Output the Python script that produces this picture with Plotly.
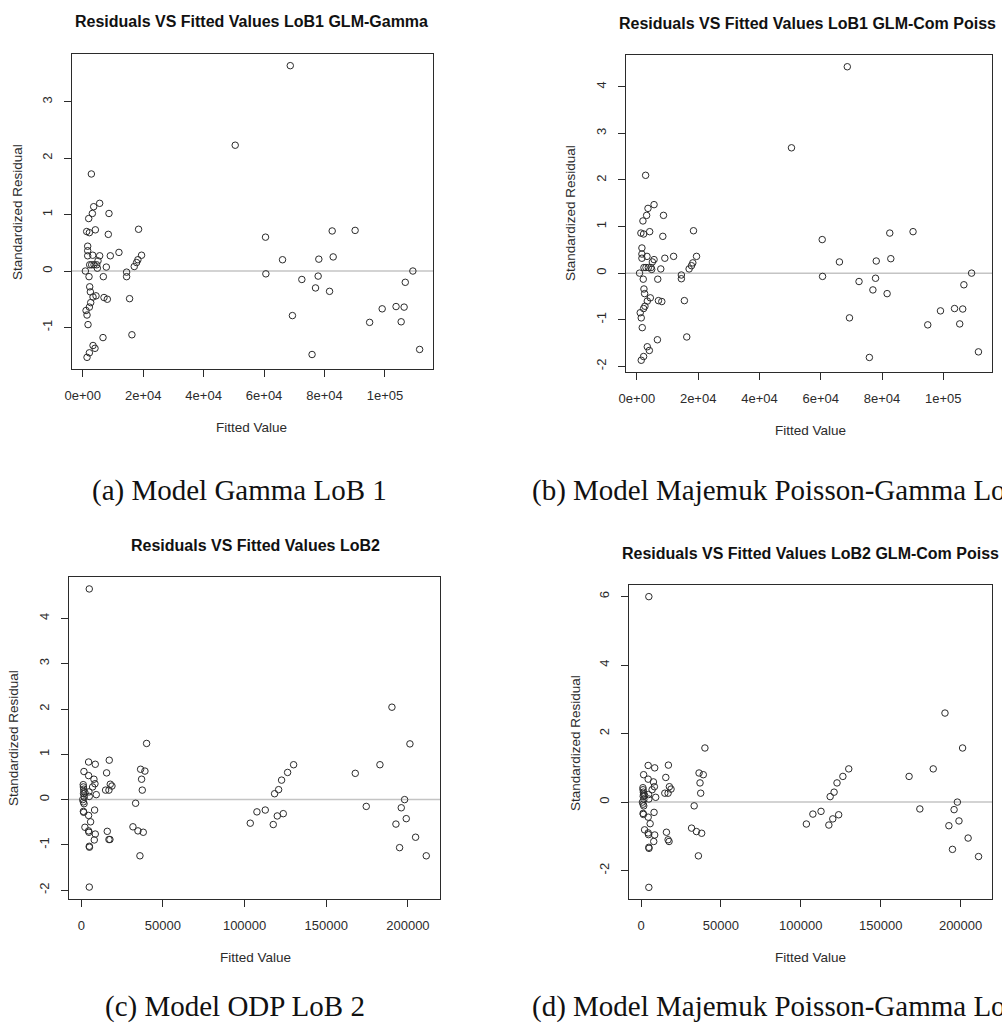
import plotly.graph_objects as go

# ---------------- data ----------------
lob1_fitted = [2860, 5610, 3630, 3190, 1980, 8690, 1320, 2200, 4180, 8470, 18480,
               1650, 1650, 1650, 3300, 5610, 9130, 11990, 19470, 18260, 17820, 17050,
               2310, 2970, 3740, 4620, 5060, 4840, 7810, 880, 2090, 6820, 14520, 14520,
               2310, 2530, 3410, 4400, 2640, 7040, 8140, 15510, 2200, 1100, 1430, 1760,
               6710, 16280, 3410, 4070, 2200, 1430,
               50450, 68670, 60480, 60590, 66100, 69380, 72490, 75870, 77020, 77890,
               78110, 81660, 82530, 82860, 90120, 94920, 99070, 103660, 105350, 106330,
               106710, 109220, 111460]
lob1_resid_gamma = [1.72, 1.20, 1.14, 1.02, 0.93, 1.02, 0.70, 0.68, 0.73, 0.65, 0.74,
                    0.44, 0.36, 0.27, 0.28, 0.27, 0.27, 0.33, 0.28, 0.20, 0.15, 0.08,
                    0.11, 0.11, 0.11, 0.11, 0.18, 0.05, 0.07, 0.00, -0.10, -0.10, -0.02, -0.10,
                    -0.28, -0.37, -0.46, -0.44, -0.56, -0.47, -0.50, -0.49, -0.64, -0.70, -0.78, -0.95,
                    -1.18, -1.13, -1.32, -1.37, -1.45, -1.53,
                    2.23, 3.64, 0.60, -0.05, 0.20, -0.79, -0.15, -1.48, -0.30, -0.09,
                    0.21, -0.36, 0.71, 0.25, 0.72, -0.91, -0.67, -0.63, -0.90, -0.64,
                    -0.20, 0.00, -1.39]
lob1_resid_cpg = [2.10, 1.47, 1.39, 1.24, 1.12, 1.24, 0.86, 0.84, 0.89, 0.79, 0.91,
                  0.54, 0.41, 0.32, 0.36, 0.29, 0.32, 0.36, 0.36, 0.22, 0.16, 0.09,
                  0.12, 0.12, 0.12, 0.12, 0.24, 0.08, 0.09, 0.00, -0.13, -0.13, -0.04, -0.12,
                  -0.34, -0.44, -0.60, -0.53, -0.71, -0.59, -0.61, -0.59, -0.76, -0.85, -0.96, -1.17,
                  -1.43, -1.37, -1.58, -1.66, -1.79, -1.87,
                  2.69, 4.43, 0.72, -0.07, 0.24, -0.96, -0.18, -1.81, -0.36, -0.11,
                  0.26, -0.44, 0.86, 0.31, 0.89, -1.11, -0.81, -0.76, -1.09, -0.77,
                  -0.25, 0.00, -1.69]

lob2_fitted = [4900, 4490, 8570, 1630, 4490, 7760, 8370, 6940, 9180,
               1200, 1300, 1500, 1600, 1400, 1800, 900, 1300, 1700, 2300, 4700, 4900,
               1300, 1500, 4490, 8160, 5710, 2240, 4490, 4700, 8570, 7960, 4900, 5000, 4900,
               17140, 15510, 14900, 16940, 17760, 18780, 15920, 16940, 17550,
               40000, 36330, 38980, 36940, 37350, 33270, 31640, 34700, 37960, 35920,
               103480, 107560, 112660, 117560, 118370, 120010, 120830, 122660, 123690,
               126340, 130010, 167770, 174500, 182870, 190220, 192670, 194910, 195930,
               197980, 198990, 201240, 204710, 211240]
lob2_resid_odp = [4.65, 0.83, 0.78, 0.62, 0.53, 0.45, 0.35, 0.28, 0.11,
                  0.33, 0.28, 0.23, 0.18, 0.13, 0.06, 0.00, -0.05, -0.09, 0.15, 0.17, 0.07,
                  -0.26, -0.28, -0.35, -0.23, -0.49, -0.61, -0.69, -0.72, -0.76, -0.89, -1.03, -1.05, -1.93,
                  0.87, 0.59, 0.21, 0.21, 0.34, 0.30, -0.70, -0.88, -0.88,
                  1.24, 0.67, 0.63, 0.45, 0.21, -0.08, -0.60, -0.69, -0.72, -1.24,
                  -0.52, -0.27, -0.23, -0.55, 0.13, -0.36, 0.22, 0.43, -0.31,
                  0.60, 0.77, 0.58, -0.15, 0.77, 2.04, -0.54, -1.06, -0.18,
                  0.00, -0.42, 1.23, -0.83, -1.24]
lob2_resid_cpg = [6.00, 1.07, 1.00, 0.80, 0.67, 0.59, 0.45, 0.36, 0.14,
                  0.42, 0.36, 0.29, 0.23, 0.17, 0.08, 0.00, -0.06, -0.11, 0.19, 0.22, 0.09,
                  -0.33, -0.36, -0.44, -0.30, -0.63, -0.81, -0.90, -0.95, -0.96, -1.15, -1.32, -1.35, -2.49,
                  1.08, 0.72, 0.26, 0.26, 0.45, 0.38, -0.88, -1.10, -1.15,
                  1.58, 0.85, 0.80, 0.56, 0.26, -0.11, -0.76, -0.86, -0.91, -1.57,
                  -0.64, -0.35, -0.27, -0.67, 0.16, -0.49, 0.29, 0.56, -0.37,
                  0.75, 0.97, 0.75, -0.20, 0.97, 2.60, -0.69, -1.38, -0.22,
                  0.00, -0.55, 1.58, -1.05, -1.59]

lob1_xticks = [0, 20000, 40000, 60000, 80000, 100000]
lob1_xticklabels = ["0e+00", "2e+04", "4e+04", "6e+04", "8e+04", "1e+05"]
lob2_xticks = [0, 50000, 100000, 150000, 200000]
lob2_xticklabels = ["0", "50000", "100000", "150000", "200000"]

titles = ["Residuals VS Fitted Values LoB1 GLM-Gamma",
          "Residuals VS Fitted Values LoB1 GLM-Com Poiss",
          "Residuals VS Fitted Values LoB2",
          "Residuals VS Fitted Values LoB2 GLM-Com Poiss"]
captions = ["(a) Model Gamma LoB 1",
            "(b) Model Majemuk Poisson-Gamma LoB 1",
            "(c) Model ODP LoB 2",
            "(d) Model Majemuk Poisson-Gamma LoB 2"]

# ---------------- layout helpers ----------------
W, H = 1002, 1023
SANS = "Liberation Sans, Arial, sans-serif"
SERIF = "Liberation Serif, Times New Roman, serif"
INK = "#2b2b2b"

def fx(p):
    return p / W

def fy(p):
    return 1 - p / H

def pad(vals, f=0.04):
    lo, hi = min(vals), max(vals)
    d = (hi - lo) * f
    return [lo - d, hi + d]

panels = [
    dict(x=lob1_fitted, y=lob1_resid_gamma, box=(72, 433, 54, 369),
         xt=(lob1_xticks, lob1_xticklabels), yt=[-1, 0, 1, 2, 3],
         title=(titles[0], 251, 22, "center"), cap=(captions[0], 90, 490),
         ytitle=(17, 212), xtitle=(252, 427)),
    dict(x=lob1_fitted, y=lob1_resid_cpg, box=(626, 992, 55, 372),
         xt=(lob1_xticks, lob1_xticklabels), yt=[-2, -1, 0, 1, 2, 3, 4],
         title=(titles[1], 617, 24, "left"), cap=(captions[1], 530, 490),
         ytitle=(570, 213), xtitle=(810, 430)),
    dict(x=lob2_fitted, y=lob2_resid_odp, box=(69, 440, 577, 899),
         xt=(lob2_xticks, lob2_xticklabels), yt=[-2, -1, 0, 1, 2, 3, 4],
         title=(titles[2], 255, 545, "center"), cap=(captions[2], 103, 1006),
         ytitle=(13, 738), xtitle=(255, 957)),
    dict(x=lob2_fitted, y=lob2_resid_cpg, box=(629, 992, 585, 899),
         xt=(lob2_xticks, lob2_xticklabels), yt=[-2, 0, 2, 4, 6],
         title=(titles[3], 620, 553, "left"), cap=(captions[3], 530, 1006),
         ytitle=(575, 743), xtitle=(810, 957)),
]

fig = go.Figure()
annotations = []
shapes = []

for i, p in enumerate(panels, start=1):
    sfx = "" if i == 1 else str(i)
    fig.add_trace(go.Scatter(
        x=p["x"], y=p["y"], mode="markers",
        marker=dict(symbol="circle-open", size=6.5, color=INK, line=dict(width=1, color=INK)),
        xaxis="x" + sfx, yaxis="y" + sfx, showlegend=False, hoverinfo="x+y"))

    x0, x1, y0, y1 = p["box"]
    common = dict(showgrid=False, zeroline=False, showline=True, mirror=True,
                  linecolor=INK, linewidth=1, ticks="outside", ticklen=7,
                  tickwidth=1, tickcolor=INK, ticklabelstandoff=7, automargin=False,
                  tickfont=dict(family=SANS, size=13, color=INK), fixedrange=True)
    fig.layout["xaxis" + sfx] = dict(
        domain=[fx(x0), fx(x1)], anchor="y" + sfx, range=pad(p["x"]),
        tickmode="array", tickvals=p["xt"][0], ticktext=p["xt"][1], **common)
    fig.layout["yaxis" + sfx] = dict(
        domain=[fy(y1), fy(y0)], anchor="x" + sfx, range=pad(p["y"]),
        tickmode="array", tickvals=p["yt"], ticktext=[str(v) for v in p["yt"]],
        tickangle=-90, **common)

    # reference line at zero residual
    shapes.append(dict(type="line", xref="x" + sfx + " domain", yref="y" + sfx,
                       x0=0, x1=1, y0=0, y1=0,
                       line=dict(color="#c4c4c4", width=1.5), layer="below"))

    t, tx, ty, anc = p["title"]
    annotations.append(dict(text="<b>" + t + "</b>", xref="paper", yref="paper",
                            x=fx(tx), y=fy(ty), xanchor=anc, yanchor="middle",
                            showarrow=False,
                            font=dict(family=SANS, size=16, color="#111")))
    c, cx, cy = p["cap"]
    annotations.append(dict(text=c, xref="paper", yref="paper",
                            x=fx(cx), y=fy(cy), xanchor="left", yanchor="middle",
                            showarrow=False,
                            font=dict(family=SERIF, size=29, color="#111")))
    yx, yy = p["ytitle"]
    annotations.append(dict(text="Standardized Residual", xref="paper", yref="paper",
                            x=fx(yx), y=fy(yy), xanchor="center", yanchor="middle",
                            textangle=-90, showarrow=False,
                            font=dict(family=SANS, size=13.5, color=INK)))
    xx, xy = p["xtitle"]
    annotations.append(dict(text="Fitted Value", xref="paper", yref="paper",
                            x=fx(xx), y=fy(xy), xanchor="center", yanchor="middle",
                            showarrow=False,
                            font=dict(family=SANS, size=13.5, color=INK)))

fig.update_layout(width=W, height=H, autosize=False,
                  margin=dict(l=0, r=0, t=0, b=0, autoexpand=False),
                  paper_bgcolor="white", plot_bgcolor="white",
                  annotations=annotations, shapes=shapes)

fig.write_html("out.html",
               config={"displayModeBar": False, "staticPlot": True},
               post_script="document.body.style.margin='0';"
                           "document.body.style.overflow='hidden';")
